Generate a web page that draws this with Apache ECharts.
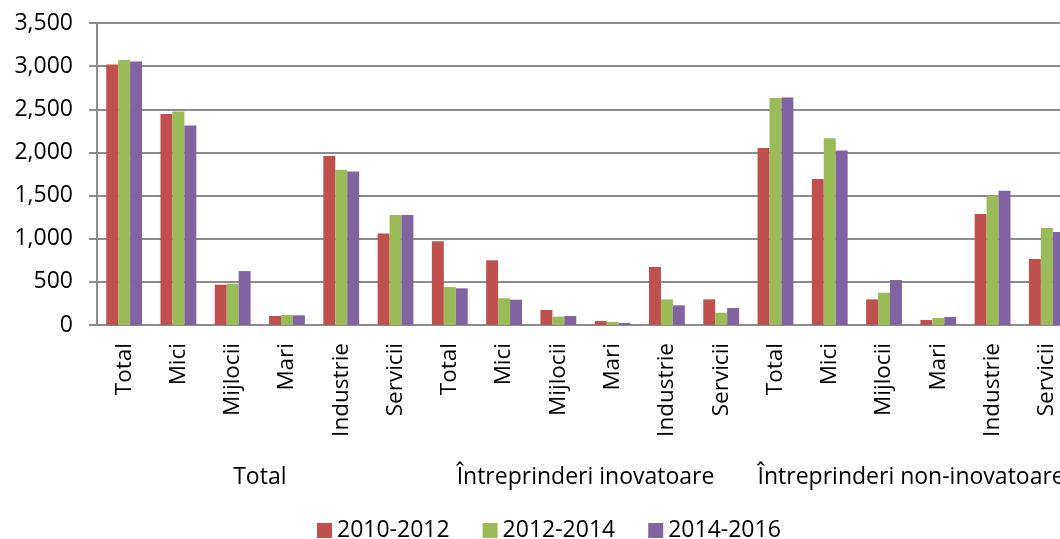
<!DOCTYPE html>
<html>
<head>
<meta charset="utf-8">
<script src="https://cdn.jsdelivr.net/npm/echarts@6/dist/echarts.min.js"></script>
<style>
html,body{margin:0;padding:0;background:#fff;overflow:hidden;width:1060px;height:539px;}
#chart{width:1090px;height:539px;}
</style>
</head>
<body>
<div id="chart"></div>
<script>
const categories = ['Total','Mici','Mijlocii','Mari','Industrie','Servicii',
                    'Total','Mici','Mijlocii','Mari','Industrie','Servicii',
                    'Total','Mici','Mijlocii','Mari','Industrie','Servicii'];
const groups = ['Total','Întreprinderi inovatoare','Întreprinderi non-inovatoare'];
const seriesNames = ['2010-2012','2012-2014','2014-2016'];
const s2010_2012 = [3020,2445,467,104,1960,1061, 970,750,174,46,672,297, 2050,1692,297,58,1285,764];
const s2012_2014 = [3070,2475,479,116,1800,1274, 440,309,97,35,297,143, 2630,2165,374,81,1502,1123];
const s2014_2016 = [3055,2313,625,112,1780,1274, 425,293,104,23,228,197, 2636,2023,521,93,1556,1077];
const yTicks = {min:0, max:3500, interval:500};
const colors = ['#C0504D','#9BBB59','#8064A2'];

const chart = echarts.init(document.getElementById('chart'), null, {renderer:'canvas'});
const font = '"Open Sans", "DejaVu Sans", sans-serif';
const gridColor = '#8c8c8c';
const values = [s2010_2012, s2012_2014, s2014_2016];

chart.setOption({
  animation:false,
  color: colors,
  textStyle:{fontFamily:font},
  grid:{left:97, top:23, width:977, height:302, containLabel:false},
  legend:{
    data: seriesNames,
    left:317, top:519, padding:0,
    itemWidth:15, itemHeight:15, itemGap:33,
    icon:'rect',
    textStyle:{fontFamily:font, fontSize:23, color:'#000'}
  },
  xAxis:[{
    type:'category',
    data: categories,
    axisLine:{show:true, lineStyle:{color:gridColor, width:2}},
    axisTick:{show:false},
    axisLabel:{interval:0, rotate:90, fontSize:22.5, color:'#000', fontFamily:font, margin:18}
  },{
    type:'category',
    position:'bottom',
    data: groups,
    offset:137,
    axisLine:{show:false},
    axisTick:{show:false},
    axisLabel:{interval:0, fontSize:23, color:'#000', fontFamily:font, margin:4}
  }],
  yAxis:{
    type:'value',
    min:yTicks.min, max:yTicks.max, interval:yTicks.interval,
    axisLine:{show:true, lineStyle:{color:gridColor, width:2}},
    axisTick:{show:true, inside:false, length:8, lineStyle:{color:gridColor, width:2}},
    splitLine:{show:true, lineStyle:{color:gridColor, width:2}},
    axisLabel:{fontSize:23, color:'#000', fontFamily:font, margin:24,
      formatter: v => v.toLocaleString('en-US')}
  },
  series: seriesNames.map((n,i)=>({
    name:n, type:'bar', xAxisIndex:0,
    data: values[i],
    barGap:'0%', barCategoryGap:'34%',
    itemStyle:{color:colors[i]}
  }))
});
</script>
</body>
</html>
